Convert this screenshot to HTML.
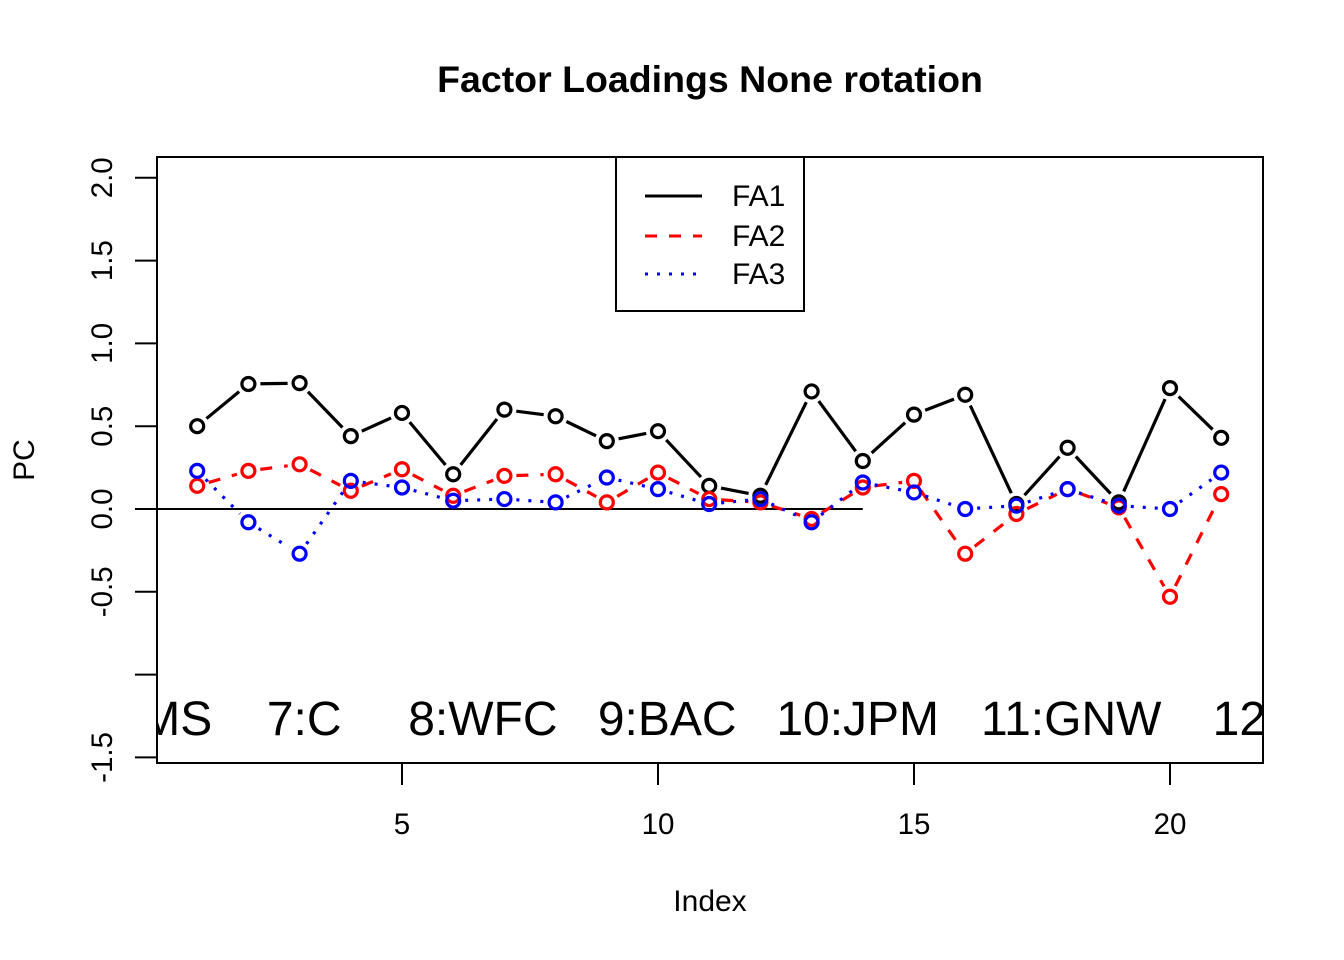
<!DOCTYPE html>
<html><head><meta charset="utf-8"><style>
body{margin:0;background:#fff}
svg{display:block;font-family:"Liberation Sans",Arial,sans-serif}
</style></head><body>
<svg id="chart" width="1344" height="960" viewBox="0 0 1344 960">
<defs><clipPath id="plotclip"><rect x="157" y="157" width="1106" height="606"/></clipPath></defs>
<text x="710" y="92" text-anchor="middle" font-size="37.5" font-weight="bold">Factor Loadings None rotation</text>
<text x="710" y="911" text-anchor="middle" font-size="30">Index</text>
<text transform="translate(34,460) rotate(-90)" text-anchor="middle" font-size="30">PC</text>
<g id="axes"></g>
<g id="labels" clip-path="url(#plotclip)"></g>
<g id="series"></g>
<rect x="157" y="157" width="1106" height="606" fill="none" stroke="#000" stroke-width="2"/>
<g>
<rect x="616" y="157" width="188" height="154" fill="#fff" stroke="#000" stroke-width="2"/>
<line x1="645" y1="196" x2="702" y2="196" stroke="#000" stroke-width="3"/>
<text x="732" y="206" font-size="30">FA1</text>
<line x1="645" y1="236" x2="702" y2="236" stroke="#f00" stroke-width="3" stroke-dasharray="12,12"/>
<text x="732" y="246" font-size="30">FA2</text>
<line x1="645" y1="274" x2="702" y2="274" stroke="#00f" stroke-width="3" stroke-dasharray="3,9"/>
<text x="732" y="284" font-size="30">FA3</text>
</g>
</svg>
<script>
const indices=[1,2,3,4,5,6,7,8,9,10,11,12,13,14,15,16,17,18,19,20,21];
const fa1=[0.50,0.755,0.76,0.44,0.58,0.21,0.60,0.56,0.41,0.47,0.14,0.08,0.71,0.29,0.57,0.69,0.03,0.37,0.04,0.73,0.43];
const fa2=[0.14,0.23,0.27,0.11,0.24,0.08,0.20,0.21,0.04,0.22,0.06,0.04,-0.06,0.13,0.17,-0.27,-0.03,0.12,0.01,-0.53,0.09];
const fa3=[0.23,-0.08,-0.27,0.17,0.13,0.05,0.06,0.04,0.19,0.12,0.03,0.06,-0.08,0.16,0.10,0.00,0.02,0.12,0.02,0.00,0.22];
const xTicks=[5,10,15,20];
const yTicks=[-1.5,-1.0,-0.5,0.0,0.5,1.0,1.5,2.0];
const yTickLabels=["-1.5","","-0.5","0.0","0.5","1.0","1.5","2.0"];
const stockLabels=["6:MS","7:C","8:WFC","9:BAC","10:JPM","11:GNW","12:WLP"];
const stockLabelX=[0.2,3.09,6.58,10.18,13.9,18.07,22.5];
const NS="http://www.w3.org/2000/svg";
const X=i=>402+(i-5)*51.2;
const Y=v=>509-v*165.6;
function mk(tag,attrs,parent){const e=document.createElementNS(NS,tag);for(const k in attrs)e.setAttribute(k,attrs[k]);parent.appendChild(e);return e;}
const axes=document.getElementById('axes');
xTicks.forEach(t=>{
 const l=mk('line',{x1:X(t),x2:X(t),y1:763,y2:785,stroke:'#000','stroke-width':2},axes);
 
 
 const tx=mk('text',{x:X(t),y:834,'text-anchor':'middle','font-size':29.5},axes);
 tx.textContent=t;
 
 
});
yTicks.forEach((t,k)=>{
 const l=mk('line',{x1:135,x2:157,y1:Y(t),y2:Y(t),stroke:'#000','stroke-width':2},axes);
 
 
 if(yTickLabels[k]){
  const tx=mk('text',{transform:`translate(112,${Y(t)}) rotate(-90)`,'text-anchor':'middle','font-size':29.5},axes);
  tx.textContent=yTickLabels[k];
  
  
 }
});
const zl=mk('line',{x1:157,x2:X(14),y1:Y(0),y2:Y(0),stroke:'#000','stroke-width':2},axes);


const lab=document.getElementById('labels');
stockLabels.forEach((s,k)=>{
 const tx=mk('text',{x:X(stockLabelX[k]),y:735,'text-anchor':'middle','font-size':48},lab);
 tx.textContent=s;
 
 
});
const ser=document.getElementById('series');
function draw(vals,color,dash,name){
 const g=mk('g',{},ser);
 
 
 for(let k=0;k<vals.length-1;k++){
  const x1=X(indices[k]),y1=Y(vals[k]),x2=X(indices[k+1]),y2=Y(vals[k+1]);
  const d=Math.hypot(x2-x1,y2-y1),g0=12;
  if(d>2*g0){
   const ux=(x2-x1)/d,uy=(y2-y1)/d;
   const l=mk('line',{x1:x1+ux*g0,y1:y1+uy*g0,x2:x2-ux*g0,y2:y2-uy*g0,stroke:color,'stroke-width':3.2,'stroke-dasharray':dash},g);
   
   
  }
 }
 vals.forEach((v,k)=>{
  const c=mk('circle',{cx:X(indices[k]),cy:Y(v),r:6.5,fill:'none',stroke:color,'stroke-width':3.2},g);
  
  
 });
}
draw(fa1,'#000','none','fa1');
draw(fa2,'#f00','12,12','fa2');
draw(fa3,'#00f','3,9','fa3');
</script>
</body></html>
